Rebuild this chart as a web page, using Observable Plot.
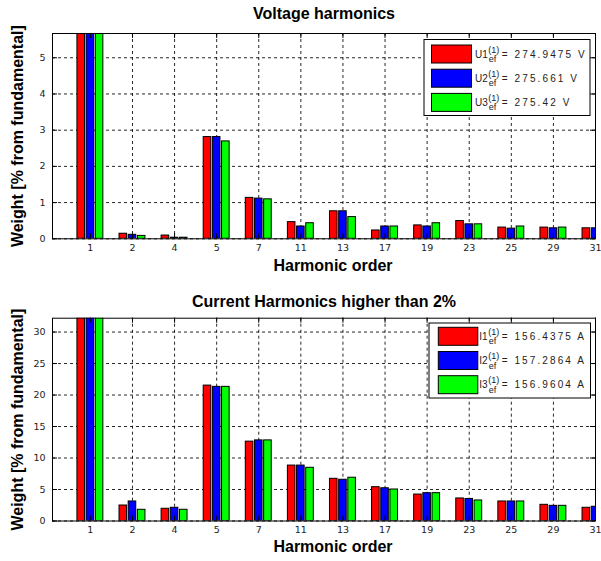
<!DOCTYPE html>
<html><head><meta charset="utf-8">
<script src="https://cdn.jsdelivr.net/npm/d3@7"></script>
<script src="https://cdn.jsdelivr.net/npm/@observablehq/plot@0.6"></script>
<style>
body{margin:0;background:#fff;}
#c svg{display:block;}
</style></head><body><div id="c"></div>
<script>
// ---- data ----
const orders = [1, 2, 4, 5, 7, 11, 13, 17, 19, 23, 25, 29, 31];
const voltTitle = "Voltage harmonics";
const currTitle = "Current Harmonics higher than 2%";
const xLabel = "Harmonic order";
const yLabel = "Weight [% from fundamental]";
const u1 = [100, 0.14, 0.09, 2.81, 1.13, 0.46, 0.76, 0.23, 0.37, 0.49, 0.31, 0.31, 0.29];
const u2 = [100, 0.11, 0.03, 2.81, 1.11, 0.34, 0.76, 0.34, 0.34, 0.40, 0.28, 0.29, 0.29];
const u3 = [100, 0.08, 0.03, 2.69, 1.09, 0.43, 0.60, 0.34, 0.43, 0.40, 0.34, 0.31, 0.30];
const i1 = [100, 2.46, 1.94, 21.5, 12.6, 8.8, 6.7, 5.37, 4.2, 3.58, 3.1, 2.57, 2.1];
const i2 = [100, 3.1, 2.1, 21.3, 12.8, 8.8, 6.55, 5.2, 4.42, 3.5, 3.1, 2.41, 2.26];
const i3 = [100, 1.78, 1.78, 21.3, 12.8, 8.45, 6.87, 5.0, 4.42, 3.26, 3.1, 2.41, 2.2];
const voltNames = ["U1", "U2", "U3"];
const voltFund = ["274.9475", "275.661", "275.42"];
const voltUnit = "V";
const currNames = ["I1", "I2", "I3"];
const currFund = ["156.4375", "157.2864", "156.9604"];
const currUnit = "A";
const colors = ["#ff0000", "#0000ff", "#00ff00"];
const voltYTicks = [0, 1, 2, 3, 4, 5];
const currYTicks = [0, 5, 10, 15, 20, 25, 30];
const voltYMax = 5.67;
const currYMax = 32.2;

const FONT = "'DejaVu Sans', sans-serif";
const LFONT = "'Liberation Sans', Arial, sans-serif";
const BOLD = "'Liberation Sans', Arial, sans-serif";

function makeChart({title, series, yMax, yTicks, height, mt, mb, titleDy, xlDy}) {
  const rows = [];
  series.forEach((vals, s) => vals.forEach((v, k) => rows.push({pos: k + 1, s, v})));
  const xIdx = orders.map((_, k) => k + 1);
  const xDom = [0.1, 13];
  const ml = 52, mr = 6, W = 601;
  const plotH = height - mt - mb, plotW = W - ml - mr;
  const bw = 0.18, step = 0.218, tk = 5;
  const ty = tk * yMax / plotH, tx = tk * (xDom[1] - xDom[0]) / plotW;
  return Plot.plot({
    width: W, height, marginTop: mt, marginBottom: mb, marginLeft: ml, marginRight: mr,
    style: {fontFamily: FONT, fontSize: "9.5px", color: "#222", background: "white", overflow: "visible"},
    x: {type: "linear", domain: xDom},
    y: {domain: [0, yMax]},
    marks: [
      Plot.gridX(xIdx, {stroke: "#000", strokeOpacity: 0.85, strokeDasharray: "3,3"}),
      Plot.gridY(yTicks, {stroke: "#000", strokeOpacity: 0.85, strokeDasharray: "3,3"}),
      Plot.rectY(rows, {
        x1: d => d.pos + (d.s - 1) * step - bw / 2,
        x2: d => d.pos + (d.s - 1) * step + bw / 2,
        y1: 0, y2: "v",
        fill: d => colors[d.s], stroke: "#000", strokeWidth: 1, clip: true
      }),
      Plot.ruleX(xIdx, {x: d => d, y1: yMax, y2: yMax - ty, stroke: "#000"}),
      Plot.ruleX(xIdx, {x: d => d, y1: 0, y2: ty, stroke: "#000"}),
      Plot.ruleY(yTicks, {y: d => d, x1: xDom[0], x2: xDom[0] + tx, stroke: "#000"}),
      Plot.ruleY(yTicks, {y: d => d, x1: xDom[1], x2: xDom[1] - tx, stroke: "#000"}),
      Plot.frame({stroke: "#000"}),
      Plot.axisX(xIdx, {tickFormat: k => orders[k - 1], tickSize: 0, tickPadding: 5, label: null, letterSpacing: 1}),
      Plot.axisY(yTicks, {tickSize: 0, tickPadding: 7, label: null}),
      Plot.text([title], {frameAnchor: "top", dy: titleDy, text: d => d, fontSize: 16, fontWeight: "bold", fontFamily: BOLD, fill: "#000", lineAnchor: "middle"}),
      Plot.text([xLabel], {frameAnchor: "bottom", dy: xlDy, text: d => d, fontSize: 16, fontWeight: "bold", fontFamily: BOLD, fill: "#000", lineAnchor: "middle", dx: 9}),
      Plot.text([yLabel], {frameAnchor: "left", dx: -35, text: d => d, rotate: -90, textAnchor: "middle", fontSize: 16, fontWeight: "bold", fontFamily: BOLD, fill: "#000", lineAnchor: "middle"})
    ]
  });
}

function addLegend(svg, L, names, fund, unit) {
  const g = d3.select(svg).append("g").attr("font-family", LFONT).attr("fill", "#222")
    .attr("text-anchor", "start");
  g.append("rect").attr("x", L.x).attr("y", L.y).attr("width", L.w).attr("height", L.h)
    .attr("fill", "white").attr("stroke", "#000");
  names.forEach((n, k) => {
    const cy = L.row0 + k * L.rowStep;
    g.append("rect").attr("x", L.sx).attr("y", cy - 9).attr("width", L.sw).attr("height", 18)
      .attr("fill", colors[k]).attr("stroke", "#000");
    const t = g.append("text").attr("x", L.tx).attr("y", cy + 3.5).attr("font-size", 10).text(n);
    const w = t.node().getComputedTextLength();
    const sup = g.append("text").attr("x", L.tx + w + 0.5).attr("y", cy - 1.5).attr("font-size", 9).text("(1)");
    const sub = g.append("text").attr("x", L.tx + w + 1).attr("y", cy + 8).attr("font-size", 9).text("ef");
    const sw = Math.max(sup.node().getComputedTextLength(), sub.node().getComputedTextLength());
    const ex = L.tx + w + sw + 3;
    g.append("text").attr("x", ex).attr("y", cy + 3.5).attr("font-size", 10)
      .attr("letter-spacing", 2.1)
      .text(`= ${fund[k]} ${unit}`);
  });
}

const c = document.getElementById("c");
const top1 = makeChart({title: voltTitle, series: [u1, u2, u3], yMax: voltYMax, yTicks: voltYTicks,
  height: 280, mt: 33, mb: 41.7, titleDy: -20, xlDy: 27});
c.appendChild(top1);
addLegend(top1, {x: 424, y: 39.5, w: 166, h: 76, sx: 431.5, sw: 40, row0: 54, rowStep: 24.2, tx: 475},
  voltNames, voltFund, voltUnit);

const bot = makeChart({title: currTitle, series: [i1, i2, i3], yMax: currYMax, yTicks: currYTicks,
  height: 281, mt: 37.7, mb: 40.5, titleDy: -16, xlDy: 26});
c.appendChild(bot);
addLegend(bot, {x: 429, y: 43, w: 161.5, h: 75, sx: 438.3, sw: 39.5, row0: 56.3, rowStep: 24.2, tx: 479.3},
  currNames, currFund, currUnit);
</script>
</body></html>
